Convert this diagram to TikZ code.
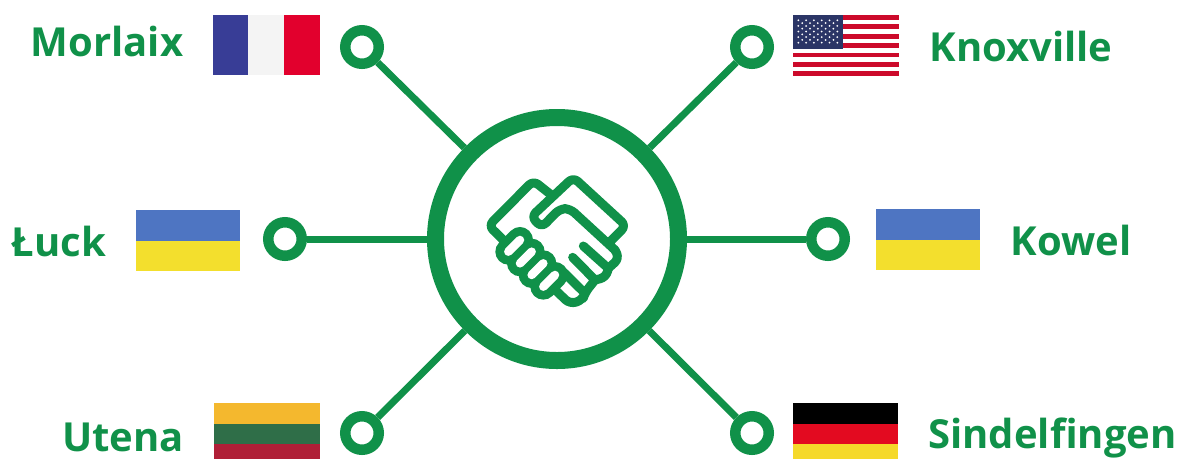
\documentclass[tikz,border=0pt]{standalone}
\usepackage{fontspec}
\setmainfont{Open Sans}
\definecolor{hubgreen}{HTML}{109149}
\definecolor{frblue}{HTML}{383D96}
\definecolor{frwhite}{HTML}{F4F4F4}
\definecolor{frred}{HTML}{E2002D}
\definecolor{uablue}{HTML}{4E75C2}
\definecolor{uayellow}{HTML}{F3DF2D}
\definecolor{ltyellow}{HTML}{F4B82E}
\definecolor{ltgreen}{HTML}{2F6E48}
\definecolor{ltred}{HTML}{B01F37}
\definecolor{dered}{HTML}{E30A20}
\definecolor{deyellow}{HTML}{F5D92A}
\definecolor{usred}{HTML}{CC0A2B}
\definecolor{usblue}{HTML}{2B3566}
\begin{document}
\begin{tikzpicture}[x=1pt,y=-1pt,
    city/.style = {
      anchor = base,
      text = hubgreen,
      inner sep = 0pt,
      font = \bfseries\fontsize{40}{48}\selectfont
    },
    dot/.style = {
      draw = hubgreen,
      fill = white,
      circle,
      line width = 10.5pt,
      inner sep = 0pt,
      minimum size = 33.5pt
    },
    hub/.style = {
      draw = hubgreen,
      fill = white,
      circle,
      line width = 17pt,
      inner sep = 0pt,
      minimum size = 243pt
    },
    link/.style = {
      draw = hubgreen,
      line width = 7pt
    },
    hand/.style = {
      draw = hubgreen,
      line width = 9pt,
      line cap = round,
      line join = round,
      rounded corners = 6pt
    }
  ]
  \useasboundingbox (0,0) rectangle (1178,459);

  \node[hub] (center) at (557,239) {};
  \node[dot] (morlaix) at (362,47) {};
  \node[dot] (knoxville) at (752,47) {};
  \node[dot] (luck) at (285,239) {};
  \node[dot] (kowel) at (828,239) {};
  \node[dot] (utena) at (362,433) {};
  \node[dot] (sindelfingen) at (752,433) {};

  \draw[link] (center) -- (morlaix);
  \draw[link] (center) -- (knoxville);
  \draw[link] (center) -- (luck);
  \draw[link] (center) -- (kowel);
  \draw[link] (center) -- (utena);
  \draw[link] (center) -- (sindelfingen);

  \node[city] (morlaixtext) at (107,56) {Morlaix};
  \node[city] (knoxvilletext) at (1021,61) {Knoxville};
  \node[city] (lucktext) at (59,256) {Łuck};
  \node[city] (koweltext) at (1071,255) {Kowel};
  \node[city] (utenatext) at (123,451) {Utena};
  \node[city] (sindelfingentext) at (1052.5,448) {Sindelfingen};

  \fill[frblue] (213,15) rectangle (248,75);
  \fill[frwhite] (248,15) rectangle (284,75);
  \fill[frred] (284,15) rectangle (320,75);

  \fill[uablue] (136,210) rectangle (240,241);
  \fill[uayellow] (136,241) rectangle (240,271);
  \fill[uablue] (876,209) rectangle (980,240);
  \fill[uayellow] (876,240) rectangle (980,270);

  \fill[ltyellow] (214,403) rectangle (320,424);
  \fill[ltgreen] (214,424) rectangle (320,444);
  \fill[ltred] (214,444) rectangle (320,459);

  \fill[black] (793,403) rectangle (898,424);
  \fill[dered] (793,424) rectangle (898,444);
  \fill[deyellow] (793,444) rectangle (898,459);

  \foreach \i in {0,...,6}
    \fill[usred] (793,15+9.4*\i) rectangle (899,19.7+9.4*\i);
  \fill[usblue] (793,15) rectangle (843,49);
  \foreach \r in {0,2,4,6,8}
    \foreach \c in {0,...,5}
      \fill[white] (798.3+7.8*\c,20.3+2.8*\r) circle (1);
  \foreach \r in {1,3,5,7}
    \foreach \c in {0,...,4}
      \fill[white] (802.2+7.8*\c,20.3+2.8*\r) circle (1);

  \begin{scope}[shift={(470,160)},x=0.3333pt,y=-0.3333pt]
    \draw[hand] (100,240) -- (56,197) -- (190,62) -- (248,108);
    \draw[hand] (415,250) -- (468,197) -- (310,52) -- (184,170) -- (215,202) -- (270,146) -- (300,146) -- (435,270);
    \draw[hand] (435,270) -- (448,295) -- (415,325);
    \draw[hand] (415,325) -- (408,352) -- (375,360);
    \draw[hand] (375,360) -- (345,398) -- (338,420) -- (300,432) -- (258,392);
    \draw[hand] (340,258) -- (415,325);
    \draw[hand] (308,292) -- (375,360);
    \draw[hand] (272,328) -- (340,395);

    \foreach \a/\b/\c/\d in {115/275/150/240, 150/310/185/275, 185/345/220/310, 220/380/255/345}
      \draw[hubgreen,line width=26pt,line cap=round] (\a,\b) -- (\c,\d);
    \foreach \a/\b/\c/\d in {115/275/150/240, 150/310/185/275, 185/345/220/310, 220/380/255/345}
      \draw[white,line width=8.5pt,line cap=round] (\a,\b) -- (\c,\d);
  \end{scope}
\end{tikzpicture}
\end{document}
